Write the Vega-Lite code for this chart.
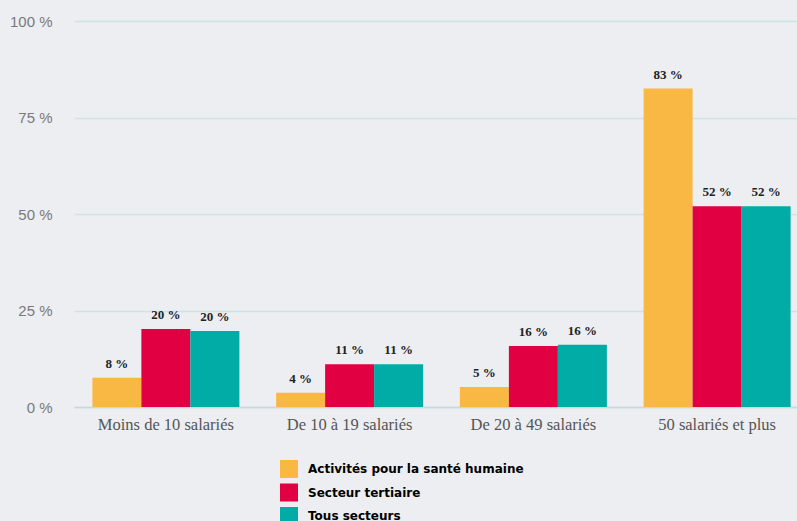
{
  "$schema": "https://vega.github.io/schema/vega-lite/v6.json",
  "width": 735,
  "height": 386,
  "autosize": {"type": "none"},
  "padding": {"left": 74, "top": 21, "right": 0, "bottom": 114},
  "background": "#eceef1",
  "config": {"view": {"stroke": null}},
  "data": {
    "values": [
      {"cat": "Moins de 10 salariés", "serie": "Activités pour la santé humaine", "value": 7.6, "label": "8 %"},
      {"cat": "Moins de 10 salariés", "serie": "Secteur tertiaire", "value": 20.2, "label": "20 %"},
      {"cat": "Moins de 10 salariés", "serie": "Tous secteurs", "value": 19.7, "label": "20 %"},
      {"cat": "De 10 à 19 salariés", "serie": "Activités pour la santé humaine", "value": 3.7, "label": "4 %"},
      {"cat": "De 10 à 19 salariés", "serie": "Secteur tertiaire", "value": 11.1, "label": "11 %"},
      {"cat": "De 10 à 19 salariés", "serie": "Tous secteurs", "value": 11.1, "label": "11 %"},
      {"cat": "De 20 à 49 salariés", "serie": "Activités pour la santé humaine", "value": 5.2, "label": "5 %"},
      {"cat": "De 20 à 49 salariés", "serie": "Secteur tertiaire", "value": 15.8, "label": "16 %"},
      {"cat": "De 20 à 49 salariés", "serie": "Tous secteurs", "value": 16.1, "label": "16 %"},
      {"cat": "50 salariés et plus", "serie": "Activités pour la santé humaine", "value": 82.5, "label": "83 %"},
      {"cat": "50 salariés et plus", "serie": "Secteur tertiaire", "value": 52, "label": "52 %"},
      {"cat": "50 salariés et plus", "serie": "Tous secteurs", "value": 52, "label": "52 %"}
    ]
  },
  "encoding": {
    "x": {
      "field": "cat",
      "type": "nominal",
      "sort": ["Moins de 10 salariés", "De 10 à 19 salariés", "De 20 à 49 salariés", "50 salariés et plus"],
      "scale": {"paddingInner": 0.2, "paddingOuter": 0.1},
      "axis": {
        "title": null,
        "labelAngle": 0,
        "ticks": false,
        "domainColor": "#c9d6ea",
        "domainWidth": 1.5,
        "labelPadding": 9,
        "labelFont": "Liberation Serif",
        "labelFontSize": 16.5,
        "labelColor": "#555555",
        "grid": false
      }
    },
    "xOffset": {
      "field": "serie",
      "type": "nominal",
      "sort": ["Activités pour la santé humaine", "Secteur tertiaire", "Tous secteurs"],
      "scale": {"paddingInner": 0, "paddingOuter": 0}
    },
    "y": {
      "field": "value",
      "type": "quantitative",
      "scale": {"domain": [0, 100]},
      "axis": {
        "title": null,
        "values": [0, 25, 50, 75, 100],
        "labelExpr": "datum.value + ' %'",
        "domain": false,
        "ticks": false,
        "labelPadding": 22,
        "labelFont": "Liberation Sans",
        "labelFontSize": 15,
        "labelColor": "#7a7a7a",
        "gridColor": "#cde4e4",
        "gridWidth": 1.3
      }
    }
  },
  "layer": [
    {
      "mark": {"type": "bar"},
      "encoding": {
        "color": {
          "field": "serie",
          "type": "nominal",
          "sort": ["Activités pour la santé humaine", "Secteur tertiaire", "Tous secteurs"],
          "scale": {
            "domain": ["Activités pour la santé humaine", "Secteur tertiaire", "Tous secteurs"],
            "range": ["#f8b843", "#e10042", "#00aca5"]
          },
          "legend": {
            "title": null,
            "orient": "none",
            "legendX": 206,
            "legendY": 439,
            "symbolType": "square",
            "symbolSize": 324,
            "symbolStrokeWidth": 0,
            "symbolOpacity": 1,
            "labelFont": "DejaVu Sans",
            "labelFontWeight": "bold",
            "labelFontSize": 12,
            "labelColor": "#000000",
            "labelOffset": 10,
            "rowPadding": 5.5,
            "labelLimit": 400
          }
        }
      }
    },
    {
      "mark": {
        "type": "text",
        "baseline": "bottom",
        "dy": -7,
        "font": "Liberation Serif",
        "fontWeight": "bold",
        "fontSize": 13,
        "color": "#222222"
      },
      "encoding": {
        "text": {"field": "label"}
      }
    }
  ]
}
